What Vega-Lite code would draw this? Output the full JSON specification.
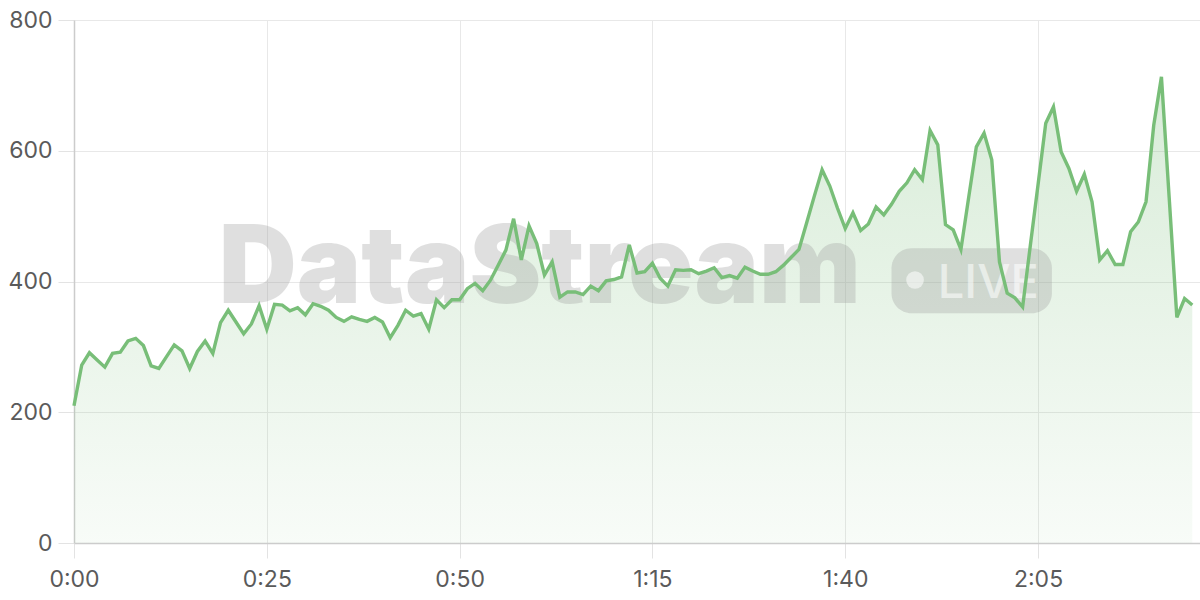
{
  "$schema": "https://vega.github.io/schema/vega-lite/v6.json",
  "width": 1126,
  "height": 523,
  "autosize": {"type": "none"},
  "padding": {"left": 74, "top": 20, "right": 0, "bottom": 57},
  "background": "white",
  "config": {
    "view": {"stroke": null},
    "axis": {
      "labelFont": "Inter",
      "labelFontSize": 23,
      "labelColor": "#5a5a5a",
      "labelFlush": false,
      "gridColor": "#e8e8e8",
      "gridWidth": 1,
      "tickColor": "#e3e3e3",
      "domainColor": "#cccccc",
      "domainWidth": 1.5,
      "title": null
    }
  },
  "data": {
    "values": [
      {"t":0,"v":210},{"t":1,"v":272},{"t":2,"v":291},{"t":3,"v":280},{"t":4,"v":269},
      {"t":5,"v":290},{"t":6,"v":292},{"t":7,"v":309},{"t":8,"v":313},{"t":9,"v":302},
      {"t":10,"v":271},{"t":11,"v":267},{"t":12,"v":285},{"t":13,"v":303},{"t":14,"v":294},
      {"t":15,"v":267},{"t":16,"v":293},{"t":17,"v":309},{"t":18,"v":290},{"t":19,"v":337},
      {"t":20,"v":356},{"t":21,"v":338},{"t":22,"v":320},{"t":23,"v":335},{"t":24,"v":363},
      {"t":25,"v":327},{"t":26,"v":365},{"t":27,"v":364},{"t":28,"v":355},{"t":29,"v":360},
      {"t":30,"v":349},{"t":31,"v":366},{"t":32,"v":362},{"t":33,"v":356},{"t":34,"v":345},
      {"t":35,"v":339},{"t":36,"v":346},{"t":37,"v":342},{"t":38,"v":339},{"t":39,"v":345},
      {"t":40,"v":338},{"t":41,"v":314},{"t":42,"v":333},{"t":43,"v":356},{"t":44,"v":347},
      {"t":45,"v":351},{"t":46,"v":327},{"t":47,"v":372},{"t":48,"v":360},{"t":49,"v":372},
      {"t":50,"v":372},{"t":51,"v":389},{"t":52,"v":397},{"t":53,"v":386},{"t":54,"v":402},
      {"t":55,"v":425},{"t":56,"v":448},{"t":57,"v":496},{"t":58,"v":433},{"t":59,"v":485},
      {"t":60,"v":458},{"t":61,"v":410},{"t":62,"v":430},{"t":63,"v":376},{"t":64,"v":384},
      {"t":65,"v":384},{"t":66,"v":380},{"t":67,"v":393},{"t":68,"v":386},{"t":69,"v":401},
      {"t":70,"v":403},{"t":71,"v":407},{"t":72,"v":456},{"t":73,"v":413},{"t":74,"v":415},
      {"t":75,"v":428},{"t":76,"v":405},{"t":77,"v":393},{"t":78,"v":418},{"t":79,"v":417},
      {"t":80,"v":418},{"t":81,"v":412},{"t":82,"v":416},{"t":83,"v":421},{"t":84,"v":406},
      {"t":85,"v":409},{"t":86,"v":405},{"t":87,"v":422},{"t":88,"v":416},{"t":89,"v":411},
      {"t":90,"v":411},{"t":91,"v":415},{"t":92,"v":425},{"t":93,"v":437},{"t":94,"v":449},
      {"t":95,"v":490},{"t":96,"v":531},{"t":97,"v":571},{"t":98,"v":546},{"t":99,"v":512},
      {"t":100,"v":481},{"t":101,"v":505},{"t":102,"v":478},{"t":103,"v":488},{"t":104,"v":514},
      {"t":105,"v":502},{"t":106,"v":518},{"t":107,"v":538},{"t":108,"v":551},{"t":109,"v":571},
      {"t":110,"v":556},{"t":111,"v":631},{"t":112,"v":609},{"t":113,"v":487},{"t":114,"v":479},
      {"t":115,"v":449},{"t":116,"v":528},{"t":117,"v":606},{"t":118,"v":627},{"t":119,"v":586},
      {"t":120,"v":430},{"t":121,"v":382},{"t":122,"v":375},{"t":123,"v":361},{"t":124,"v":455},
      {"t":125,"v":548},{"t":126,"v":642},{"t":127,"v":667},{"t":128,"v":598},{"t":129,"v":573},
      {"t":130,"v":538},{"t":131,"v":564},{"t":132,"v":522},{"t":133,"v":433},{"t":134,"v":447},
      {"t":135,"v":426},{"t":136,"v":426},{"t":137,"v":476},{"t":138,"v":491},{"t":139,"v":522},
      {"t":140,"v":639},{"t":141,"v":713},{"t":142,"v":529},{"t":143,"v":345},{"t":144,"v":374},
      {"t":145,"v":364}
    ]
  },
  "layer": [
    {
      "mark": {
        "type": "area",
        "color": {
          "gradient": "linear",
          "x1": 0, "y1": 0, "x2": 0, "y2": 1,
          "stops": [
            {"offset": 0, "color": "rgba(116,187,116,0.28)"},
            {"offset": 1, "color": "rgba(116,187,116,0.05)"}
          ]
        }
      },
      "encoding": {
        "x": {
          "field": "t", "type": "quantitative",
          "scale": {"domain": [0, 146], "nice": false, "zero": false},
          "axis": {
            "values": [0, 25, 50, 75, 100, 125],
            "labelExpr": "floor(datum.value/60) + ':' + (datum.value%60 < 10 ? '0' : '') + (datum.value%60)",
            "tickSize": 15,
            "labelPadding": 10,
            "grid": true
          }
        },
        "y": {
          "field": "v", "type": "quantitative",
          "scale": {"domain": [0, 800], "nice": false},
          "axis": {
            "values": [0, 200, 400, 600, 800],
            "tickSize": 16,
            "labelPadding": 6,
            "grid": true
          }
        }
      }
    },
    {
      "data": {"values": [{"label": "DataStream"}]},
      "mark": {"type": "text", "font": "Inter", "fontWeight": 900, "fontSize": 108, "align": "center", "baseline": "alphabetic", "color": "#999999", "opacity": 0.3},
      "encoding": {
        "text": {"field": "label"},
        "x": {"datum": 60.4, "type": "quantitative"},
        "y": {"datum": 367, "type": "quantitative"}
      }
    },
    {
      "data": {"values": [{"label": "LIVE"}]},
      "mark": {"type": "rect", "cornerRadius": 20, "color": "#999999", "opacity": 0.3},
      "encoding": {
        "x": {"datum": 106, "type": "quantitative"},
        "x2": {"datum": 126.8},
        "y": {"datum": 450.8, "type": "quantitative"},
        "y2": {"datum": 351.4}
      }
    },
    {
      "data": {"values": [{"label": "LIVE"}]},
      "mark": {"type": "point", "shape": "circle", "filled": true, "size": 314, "color": "white", "opacity": 0.55},
      "encoding": {
        "x": {"datum": 109.05, "type": "quantitative"},
        "y": {"datum": 402.3, "type": "quantitative"}
      }
    },
    {
      "data": {"values": [{"label": "LIVE"}]},
      "mark": {"type": "text", "font": "Inter", "fontWeight": 500, "fontSize": 47, "align": "left", "baseline": "alphabetic", "color": "white", "opacity": 0.55},
      "encoding": {
        "text": {"field": "label"},
        "x": {"datum": 112, "type": "quantitative"},
        "y": {"datum": 374.3, "type": "quantitative"}
      }
    },
    {
      "mark": {"type": "line", "color": "#78be78", "strokeWidth": 3.4},
      "encoding": {
        "x": {"field": "t", "type": "quantitative"},
        "y": {"field": "v", "type": "quantitative"}
      }
    }
  ]
}
